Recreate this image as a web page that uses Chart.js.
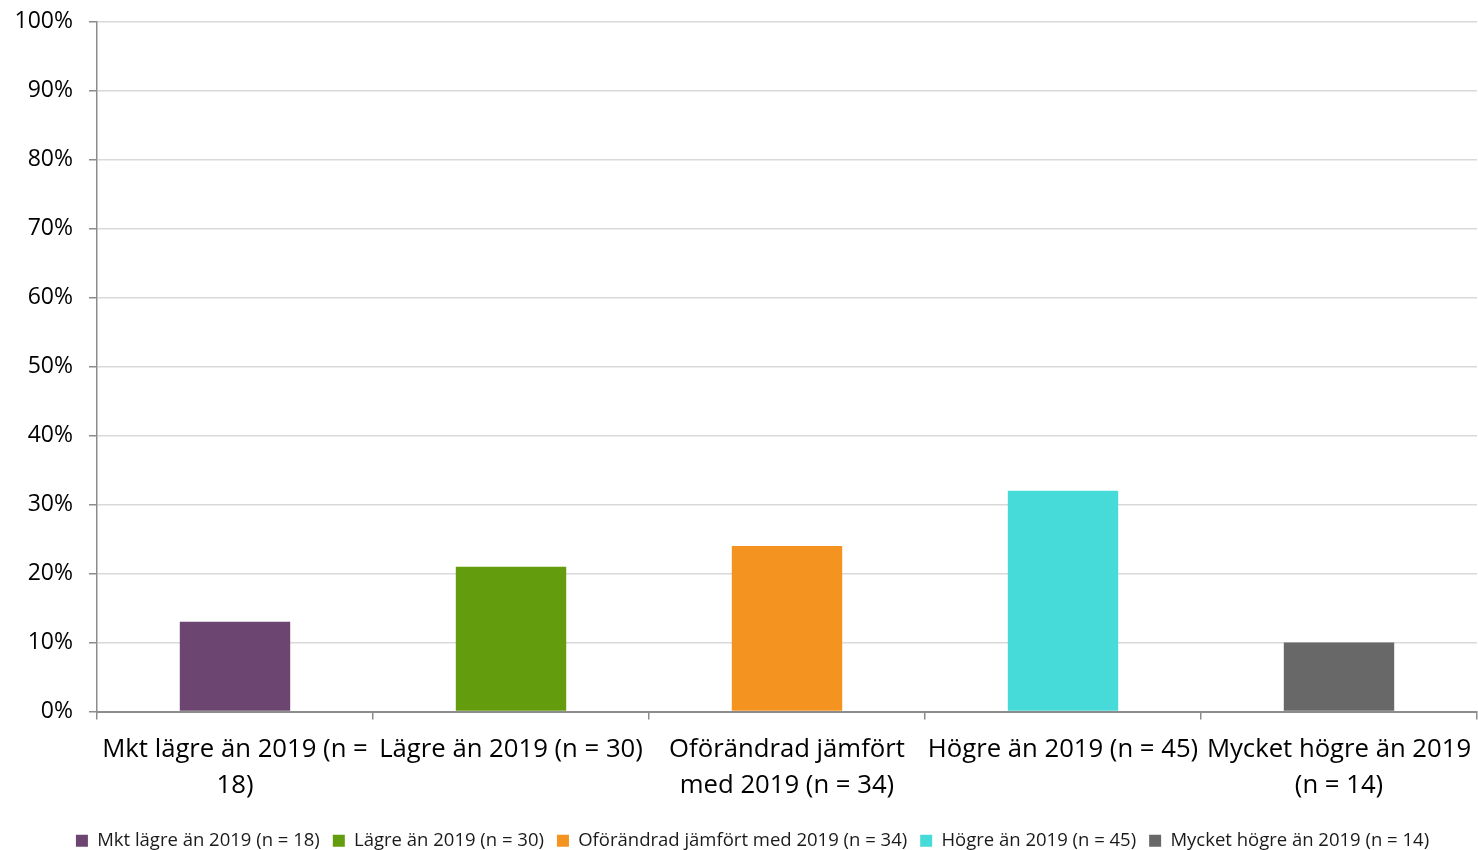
<!DOCTYPE html>
<html>
<head>
<meta charset="utf-8">
<script src="https://cdn.jsdelivr.net/npm/chart.js@4/dist/chart.umd.min.js"></script>
<style>
html,body{margin:0;padding:0;background:#fff;overflow:hidden;}
#wrap{width:1478px;height:850px;position:relative;overflow:hidden;}
#c{position:absolute;left:0;top:-8px;}
</style>
</head>
<body>
<div id="wrap"><canvas id="c" width="1478" height="868"></canvas></div>
<script>
const categories = [
  ["Mkt lägre än 2019 (n =", "18)"],
  "Lägre än 2019 (n = 30)",
  ["Oförändrad jämfört", "med 2019 (n = 34)"],
  "Högre än 2019 (n = 45)",
  ["Mycket högre än 2019", "(n = 14)"]
];
const seriesNames = [
  "Mkt lägre än 2019 (n = 18)",
  "Lägre än 2019 (n = 30)",
  "Oförändrad jämfört med 2019 (n = 34)",
  "Högre än 2019 (n = 45)",
  "Mycket högre än 2019 (n = 14)"
];
const values = [13, 21, 24, 32, 10];
const colors = ["#6c4670", "#639d0d", "#f4931f", "#46dbd9", "#686868"];

const FONT = "'Open Sans', sans-serif";

const datasets = seriesNames.map((name, i) => ({
  label: name,
  data: values.map((v, j) => (j === i ? v : null)),
  backgroundColor: colors[i],
  borderWidth: 0,
  categoryPercentage: 1,
  barPercentage: 0.4
}));

const legendShift = {
  id: "legendShift",
  afterLayout(chart) {
    if (chart.legend) {
      chart.legend.left += 14;
      chart.legend.right += 14;
    }
  }
};

new Chart(document.getElementById("c"), {
  type: "bar",
  data: { labels: categories, datasets },
  plugins: [legendShift],
  options: {
    responsive: false,
    animation: false,
    devicePixelRatio: 1,
    layout: { padding: { top: 6, right: 1, left: 0, bottom: 0 } },
    plugins: {
      tooltip: { enabled: false },
      legend: {
        position: "bottom",
        labels: {
          font: { family: FONT, size: 18.5 },
          color: "#1a1a1a",
          boxWidth: 12,
          boxHeight: 12,
          padding: 13
        }
      }
    },
    scales: {
      x: {
        stacked: true,
        offset: true,
        grid: {
          offset: true,
          drawOnChartArea: false,
          drawTicks: true,
          tickLength: 8,
          tickColor: "#8c8c8c",
          lineWidth: 1.5
        },
        border: { color: "#8c8c8c", width: 2 },
        ticks: {
          font: { family: FONT, size: 25.7, lineHeight: 1.4 },
          color: "#000",
          maxRotation: 0,
          autoSkip: false,
          padding: 12
        },
        afterFit: (s) => { s.height = 107; s.paddingLeft = 0; s.paddingRight = 0; }
      },
      y: {
        stacked: true,
        min: 0,
        max: 100,
        ticks: {
          stepSize: 10,
          font: { family: FONT, size: 23 },
          color: "#000",
          padding: 16,
          callback: (v) => v + "%"
        },
        grid: {
          color: "#d9d9d9",
          lineWidth: 1.5,
          tickLength: 8,
          tickColor: "#8c8c8c"
        },
        border: { color: "#8c8c8c", width: 1.5 },
        afterFit: (s) => { s.width = 97; }
      }
    }
  }
});
</script>
</body>
</html>
